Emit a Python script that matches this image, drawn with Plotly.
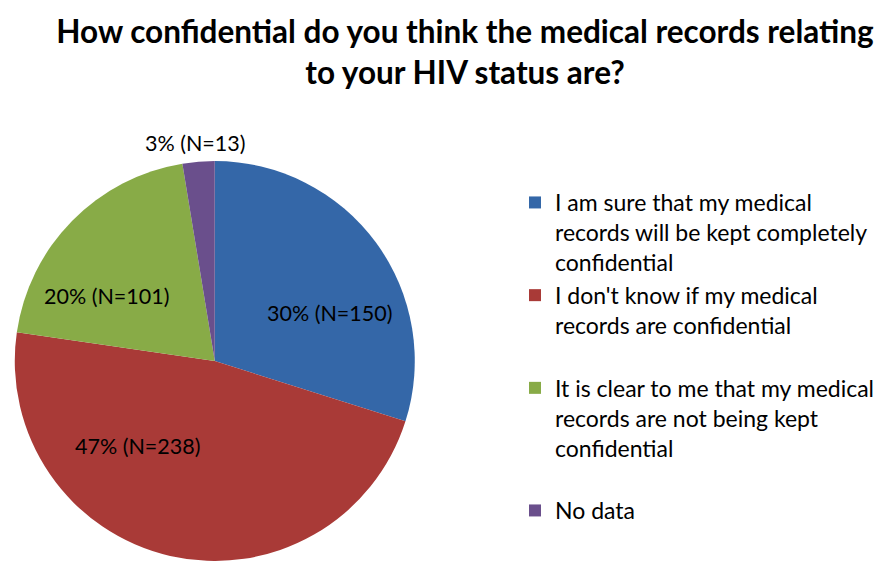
import plotly.graph_objects as go

# Survey responses
categories = [
    "I am sure that my medical<br>records will be kept completely<br>confidential",
    "I don't know if my medical<br>records are confidential<br> ",
    "It is clear to me that my medical<br>records are not being kept<br>confidential<br> ",
    "No data",
]
counts = [150, 238, 101, 13]
colors = ["#3467A8", "#A93A37", "#88AB47", "#6A4F8C"]

# Label anchor points (pixels in the 880x561 canvas)
label_px = [(331, 313), (138, 446), (107, 296), (197, 143)]

W, H = 880, 561
total = sum(counts)
labels_text = [f"{round(c / total * 100)}% (N={c})" for c in counts]

fig = go.Figure(
    go.Pie(
        labels=categories,
        values=counts,
        sort=False,
        direction="clockwise",
        rotation=0,
        marker=dict(colors=colors, line=dict(width=0)),
        textinfo="none",
        hoverinfo="skip",
        domain=dict(x=[13 / W, 419 / W], y=[0, 1 - 161 / H]),
    )
)

for (px, py), t in zip(label_px, labels_text):
    fig.add_annotation(
        x=px / W, y=1 - py / H, xref="paper", yref="paper",
        text=t, showarrow=False, xanchor="center", yanchor="middle",
        font=dict(family="Lato", size=21.5, color="#000000"),
    )

fig.update_layout(
    width=W, height=H,
    margin=dict(l=0, r=0, t=0, b=0),
    paper_bgcolor="white",
    plot_bgcolor="white",
    title=dict(
        text="How confidential do you think the medical records relating<br>to your HIV status are?",
        x=465 / W, xanchor="center", xref="container",
        y=1 - 43 / H, yanchor="top", yref="container",
        font=dict(family="Lato", size=31.5, color="#000000", weight="bold"),
    ),
    legend=dict(
        x=518 / W, y=1 - 181 / H, xanchor="left", yanchor="top",
        font=dict(family="Lato", size=23, color="#000000"),
        valign="top",
        bgcolor="rgba(0,0,0,0)",
    ),
    showlegend=True,
)

fig.write_html("out.html")
